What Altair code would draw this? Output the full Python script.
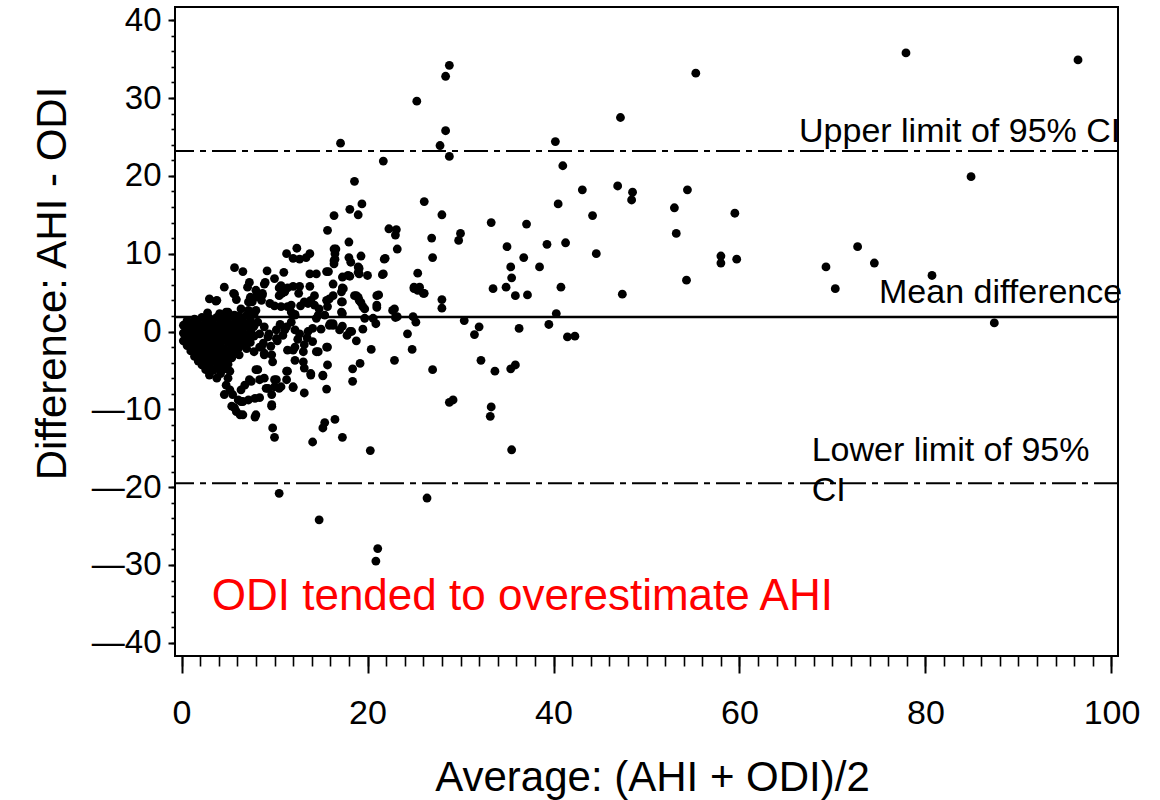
import altair as alt
import pandas as pd

# ---------------- data ----------------
# dense cluster near the origin (average, difference)
dense_points = [
    (0.2, 0.8), (0.2, -0.2), (0.2, -1.2),
    (0.6, 1.4), (0.6, 0.3), (0.6, -0.7), (0.6, -1.8),
    (1.0, 0.9), (1.0, -0.2), (1.0, -1.3), (1.0, -2.5),
    (1.4, 1.6), (1.4, 0.4), (1.4, -0.8), (1.4, -2.0), (1.4, -3.2),
    (1.8, 1.0), (1.8, -0.2), (1.8, -1.4), (1.8, -2.6), (1.8, -3.8),
    (2.2, 1.8), (2.2, 0.5), (2.2, -0.7), (2.2, -1.9), (2.2, -3.1), (2.2, -4.3),
    (2.6, 1.1), (2.6, -0.1), (2.6, -1.3), (2.6, -2.5), (2.6, -3.7), (2.6, -4.9),
    (3.0, 1.7), (3.0, 0.5), (3.0, -0.8), (3.0, -2.0), (3.0, -3.2), (3.0, -4.4), (3.0, -5.6),
    (3.4, 1.0), (3.4, -0.2), (3.4, -1.4), (3.4, -2.6), (3.4, -3.8), (3.4, -5.0),
    (3.8, 1.8), (3.8, 0.4), (3.8, -0.9), (3.8, -2.1), (3.8, -3.3), (3.8, -4.6), (3.8, -6.0),
    (4.2, 1.1), (4.2, -0.2), (4.2, -1.5), (4.2, -2.8), (4.2, -4.0), (4.2, -5.4),
    (4.6, 1.9), (4.6, 0.5), (4.6, -0.8), (4.6, -2.2), (4.6, -3.5), (4.6, -4.8),
    (5.0, 1.2), (5.0, -0.1), (5.0, -1.4), (5.0, -2.8), (5.0, -4.2),
    (5.4, 2.0), (5.4, 0.6), (5.4, -0.7), (5.4, -2.0), (5.4, -3.4),
    (5.8, 1.3), (5.8, 0.0), (5.8, -1.3), (5.8, -2.6),
    (6.2, 2.0), (6.2, 0.6), (6.2, -0.8), (6.2, -2.0), (6.2, -3.0),
    (6.6, 1.3), (6.6, -0.1), (6.6, -1.5),
    (7.0, 2.1), (7.0, 0.7), (7.0, -0.8), (7.0, -2.2),
    (7.4, 1.4), (7.4, 0.0), (7.4, -1.4),
    (7.8, 2.2), (7.8, 0.7), (7.8, -0.6), (7.8, -2.6),
]

# points with positive difference, average below ~22
upper_spread = [
    (12.4, 10.7), (11.3, 10.0), (12.0, 9.4), (12.7, 9.3), (13.4, 9.5), (13.8, 10.0),
    (16.4, 9.1), (16.5, 10.0), (5.7, 8.2), (6.6, 7.7), (9.2, 7.8), (11.0, 7.6),
    (10.0, 6.8), (13.8, 7.4), (14.5, 7.4), (15.6, 7.7), (18.1, 7.1), (19.1, 8.1),
    (7.3, 6.3), (4.6, 5.7), (5.7, 4.8), (7.1, 5.7), (7.4, 4.4), (7.6, 3.8),
    (8.5, 4.6), (8.9, 6.1), (10.5, 5.6), (11.4, 5.6), (12.0, 5.8), (12.7, 5.8),
    (13.8, 5.8), (10.8, 4.9), (9.5, 3.6), (10.0, 3.3), (10.7, 3.2), (11.4, 3.2),
    (12.2, 2.2), (12.8, 3.3), (13.6, 3.6), (14.3, 3.4), (15.6, 4.0), (15.7, 3.2),
    (16.3, 6.1), (17.3, 5.6), (19.0, 4.4), (19.3, 3.7), (19.7, 2.9), (3.0, 4.2),
    (3.8, 4.0), (2.8, 2.4), (2.9, 1.7), (6.4, 2.9), (7.2, 2.7), (8.0, 2.7),
    (5.0, 2.5), (5.7, 2.1), (12.2, 2.1), (14.5, 1.7), (15.4, 2.1), (17.3, 2.3),
    (16.3, 0.8), (17.3, 0.7), (18.1, 0.0), (18.3, 0.0), (17.0, 0.2), (15.0, 0.3),
    (13.6, 0.0), (12.7, -0.3), (11.1, 0.2), (10.2, 0.2), (8.9, 0.6), (8.2, 1.2),
    (7.5, 0.2), (16.6, 10.6), (16.5, 9.3), (16.4, 8.7), (18.0, 9.5), (18.2, 8.9),
    (21.9, 9.4), (21.6, 7.3), (20.0, 7.2), (19.0, 8.3), (19.1, 7.4), (15.8, 7.7),
    (17.4, 5.5), (9.0, 6.3), (10.7, 5.9), (11.1, 5.1), (10.5, 4.6), (12.6, 4.9),
    (14.3, 4.6), (17.2, 5.1), (16.3, 4.6), (18.8, 4.6), (8.7, 4.9), (8.6, 4.0),
    (11.8, 3.4), (13.2, 3.8), (13.9, 4.0), (14.8, 2.9), (15.9, 4.2), (17.2, 3.8),
    (21.0, 4.6), (21.0, 3.4), (22.7, 2.7), (14.7, 2.1), (11.8, 2.5), (3.7, 3.9),
    (5.6, 4.9), (5.9, 4.1), (7.2, 3.8), (7.9, 4.4), (8.0, 5.3), (8.7, 4.7),
    (4.1, 2.3), (4.8, 2.5), (11.3, 0.6), (12.2, 0.2), (14.1, 0.4), (15.9, 0.8),
    (20.6, 1.7), (19.7, 1.7), (20.9, 1.0), (9.4, -0.3), (10.6, 0.9), (12.5, -1.0),
    (13.5, -0.8), (11.8, 1.2), (16.0, 1.0), (17.8, -0.5), (18.8, -1.2), (19.5, 0.3),
]

# points with negative difference, average below ~35
lower_spread = [
    (20.4, -2.3), (22.9, -3.7), (24.8, -2.3), (24.3, -0.3), (27.0, -4.9),
    (29.2, -8.8), (28.8, -9.1), (33.3, -9.7), (33.2, -10.9), (33.7, -5.1),
    (32.2, -3.7), (31.5, -0.4), (10.5, -20.8), (14.8, -24.2), (21.1, -27.9),
    (20.9, -29.5), (26.4, -21.4), (20.3, -15.3), (17.3, -13.6), (16.5, -11.3),
    (15.4, -11.7), (15.2, -12.4), (14.1, -14.2), (10.0, -13.6), (9.8, -12.4),
    (7.9, -11.0), (9.7, -9.6), (18.4, -6.4), (18.4, -4.8), (19.2, -4.1),
    (15.6, -7.4), (15.2, -5.7), (13.9, -5.6), (13.2, -7.9), (15.7, -4.3),
    (14.7, -2.6), (15.7, -2.0), (13.1, -2.6), (12.2, -3.7), (11.3, -5.1),
    (11.3, -6.2), (10.0, -6.2), (10.5, -7.3), (9.1, -7.3), (12.0, -7.2),
    (8.9, -6.0), (8.2, -4.9), (7.9, -8.6), (7.2, -8.8), (6.4, -9.0),
    (5.4, -9.6), (5.9, -10.3), (6.3, -10.7), (4.6, -8.1), (35.5, -15.2),
    (35.4, -4.8), (35.9, -4.3), (41.5, -0.7), (42.3, -0.6), (4.8, -6.9),
    (5.0, -6.0), (5.2, -5.1), (6.4, -7.5), (6.8, -6.9), (7.3, -6.2),
    (9.3, -7.3), (10.0, -7.1), (10.7, -7.1), (9.7, -8.1), (10.2, -6.2),
    (11.4, -5.1), (13.1, -3.9), (13.2, -4.7), (11.4, -2.4), (12.0, -2.4),
    (9.7, -3.0), (9.8, -3.9), (8.6, -2.0), (8.9, -2.8), (13.2, -1.7),
    (14.1, -1.3), (5.7, -9.8), (6.6, -9.0), (8.4, -8.5), (7.5, -6.4),
    (8.4, -6.2), (8.0, -10.7), (6.6, -10.7), (5.2, -7.5), (5.5, -8.1),
    (6.1, -8.8), (8.4, -0.3), (9.3, -0.7), (10.2, -0.9), (8.4, -2.0),
    (8.9, -3.0), (12.2, -2.0), (14.5, -2.6), (15.6, -2.0), (8.0, -4.9),
    (12.0, -7.1), (13.9, -5.4), (15.2, -5.6), (9.7, -9.4), (10.3, -1.2),
    (8.8, -1.5), (9.6, -1.9), (10.9, -0.5),
]

# points with larger averages / large positive differences
wide_spread = [
    (77.9, 35.8), (96.4, 34.9), (55.3, 33.2), (28.8, 34.2), (28.4, 32.8),
    (25.3, 29.6), (47.2, 27.5), (28.4, 25.8), (17.1, 24.2), (27.8, 23.9),
    (40.2, 24.4), (28.8, 22.5), (21.7, 21.9), (41.0, 21.3), (84.9, 19.9),
    (18.6, 19.3), (43.1, 18.2), (46.9, 18.7), (48.5, 17.9), (48.4, 16.9),
    (54.4, 18.2), (26.1, 16.7), (19.4, 16.4), (18.1, 15.7), (19.0, 15.0),
    (16.4, 14.9), (28.0, 15.0), (40.5, 16.4), (44.2, 14.9), (53.0, 15.9),
    (59.5, 15.2), (53.2, 12.6), (33.3, 14.0), (37.1, 13.8), (15.7, 13.0),
    (22.3, 13.2), (23.1, 13.1), (23.0, 12.4), (23.2, 10.6), (26.9, 12.0),
    (30.0, 12.6), (29.8, 11.7), (18.0, 11.5), (16.4, 10.6), (35.0, 10.9),
    (39.3, 11.2), (41.3, 11.4), (44.6, 10.0), (58.0, 9.7), (58.0, 8.8),
    (59.7, 9.3), (54.3, 6.6), (47.4, 4.8), (36.8, 9.5), (38.5, 8.3),
    (35.4, 8.3), (35.5, 6.9), (33.5, 5.5), (34.9, 5.7), (35.9, 4.6),
    (37.2, 4.7), (40.8, 5.7), (40.3, 2.3), (39.5, 0.9), (30.4, 1.4),
    (32.0, 0.6), (36.3, 0.4), (27.0, 9.5), (25.4, 7.5), (25.0, 5.7),
    (25.6, 5.7), (26.1, 4.9), (28.0, 4.1), (28.0, 3.0), (21.2, 4.7),
    (21.0, 3.1), (22.9, 2.9), (23.2, 1.9), (24.9, 1.9), (25.2, 1.2),
    (21.7, 7.4), (21.8, 9.3), (19.3, 9.7), (19.0, 7.6), (17.3, 7.0),
    (17.9, 7.2), (17.3, 5.5), (18.6, 4.6), (19.1, 4.0), (19.5, 3.2),
    (17.3, 3.8), (17.2, 2.5), (16.3, 1.0), (72.7, 10.9), (69.3, 8.3),
    (74.5, 8.8), (70.3, 5.5), (80.7, 7.2), (87.4, 1.1), (25.0, 5.5),
    (25.4, 5.3), (26.0, 4.9), (23.0, 1.8),
]

# reference lines (mean difference and 95% limits)
mean_difference = 1.85
upper_limit = 23.2
lower_limit = -19.5

# annotations: (average, difference, text)
annotation_x = [66.4, 75.0, 67.76, 67.76]
annotation_y = [24.34, 3.63, -16.61, -21.75]
annotation_text = ["Upper limit of 95% CI", "Mean difference", "Lower limit of 95%", "CI"]
note_x = [3.25]
note_y = [-35.84]
note_text = ["ODI tended to overestimate AHI"]

x_major = [0, 20, 40, 60, 80, 100]
x_minor = list(range(0, 101, 2))
y_major = [-40, -30, -20, -10, 0, 10, 20, 30, 40]
y_minor = list(range(-40, 41, 2))

# ---------------- chart ----------------
FONT = "Liberation Sans"
all_points = dense_points + upper_spread + lower_spread + wide_spread
df = pd.DataFrame(all_points, columns=["avg", "diff"])

xscale = alt.Scale(domain=[-0.7, 100.7], nice=False, zero=False)
yscale = alt.Scale(domain=[-41.7, 41.7], nice=False, zero=False)

points = alt.Chart(df).mark_circle(size=78, color="black", opacity=1).encode(
    x=alt.X("avg:Q", scale=xscale,
            axis=alt.Axis(orient="bottom", values=x_minor, tickSize=10, tickWidth=1.6,
                          tickColor="black", labels=False, domain=False, grid=False,
                          title=None)),
    y=alt.Y("diff:Q", scale=yscale,
            axis=alt.Axis(orient="left", values=y_minor, tickSize=4, tickWidth=1.6,
                          tickColor="black", labels=False, domain=False, grid=False,
                          title=None)),
)

ann_df = pd.DataFrame({"avg": annotation_x, "diff": annotation_y, "label": annotation_text})
annotations = alt.Chart(ann_df).mark_text(
    align="left", baseline="alphabetic", fontSize=34, font=FONT, color="black"
).encode(
    x=alt.X("avg:Q", scale=xscale,
            axis=alt.Axis(orient="bottom", values=x_major, tickSize=17, tickWidth=2,
                          tickColor="black", domain=False, grid=False,
                          labelFont=FONT, labelFontSize=34, labelColor="black",
                          labelPadding=23, labelFlush=False,
                          title="Average: (AHI + ODI)/2", titleFont=FONT,
                          titleFontSize=42, titleFontWeight="normal", titleColor="black",
                          titleX=477, titleY=134, titleAlign="center",
                          titleBaseline="alphabetic")),
    y=alt.Y("diff:Q", scale=yscale,
            axis=alt.Axis(orient="left", values=y_major, tickSize=7, tickWidth=2,
                          tickColor="black", domain=False, grid=False,
                          labelFont=FONT, labelFontSize=33, labelColor="black",
                          labelPadding=7, labelFlush=False,
                          labelExpr="datum.value < 0 ? '\u2014' + abs(datum.value) : datum.label",
                          title="Difference: AHI - ODI", titleFont=FONT,
                          titleFontSize=42, titleFontWeight="normal", titleColor="black",
                          titleAngle=270, titleX=-110, titleY=276, titleAlign="center",
                          titleBaseline="alphabetic")),
    text="label:N",
)

note_df = pd.DataFrame({"avg": note_x, "diff": note_y, "label": note_text})
note = alt.Chart(note_df).mark_text(
    align="left", baseline="alphabetic", fontSize=44, font=FONT, color="#ff0000"
).encode(
    x=alt.X("avg:Q", scale=xscale, axis=None),
    y=alt.Y("diff:Q", scale=yscale, axis=None),
    text="label:N",
)

mean_df = pd.DataFrame({"diff": [mean_difference]})
mean_rule = alt.Chart(mean_df).mark_rule(color="black", strokeWidth=2.5).encode(
    y=alt.Y("diff:Q", scale=yscale, axis=None)
)

limit_df = pd.DataFrame({"diff": [upper_limit, lower_limit]})
limit_rule = alt.Chart(limit_df).mark_rule(
    color="black", strokeWidth=2, strokeDash=[24, 6, 6, 6]
).encode(
    y=alt.Y("diff:Q", scale=yscale, axis=None)
)

chart = alt.layer(
    limit_rule, mean_rule, points, annotations, note
).resolve_axis(
    x="independent", y="independent"
).properties(
    width=943,
    height=649,
    autosize=alt.AutoSizeParams(type="none"),
    padding={"left": 175, "top": 7, "right": 42, "bottom": 144},
    background="white",
).configure_view(
    stroke="black", strokeWidth=2
)

chart.save("out.html", embed_options={"renderer": "svg", "actions": False})
